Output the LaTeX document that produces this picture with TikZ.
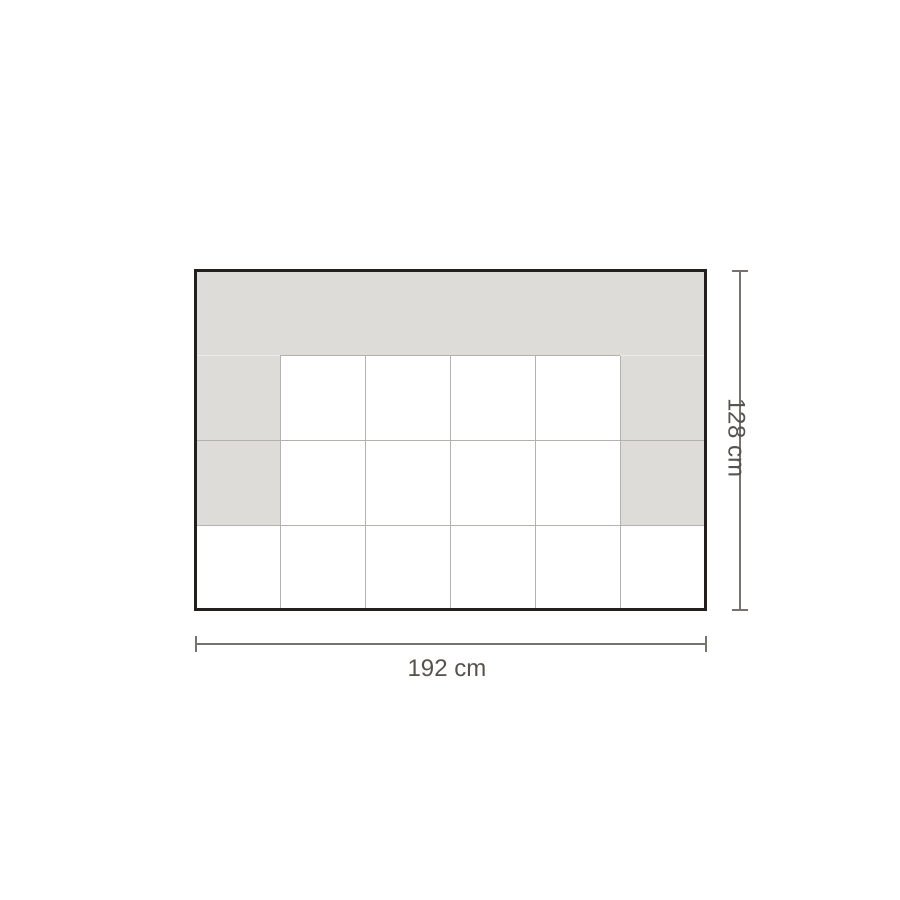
\documentclass[tikz,border=0pt]{standalone}
\usepackage{fontspec}
\setmainfont{Liberation Sans}
\definecolor{tilegray}{HTML}{DDDCD9}
\definecolor{framecol}{HTML}{231F1C}
\definecolor{gridcol}{HTML}{B5B1AC}
\definecolor{gridlight}{HTML}{ECEBE9}
\definecolor{dimcol}{HTML}{77726E}
\definecolor{textcol}{HTML}{57524E}
\tikzset{
  gridline/.style={draw=gridcol, line width=1pt},
  gridlightline/.style={draw=gridlight, line width=1pt},
  frameline/.style={draw=framecol, line width=3pt},
  dimline/.style={draw=dimcol, line width=2pt},
  dimlabel/.style={text=textcol, font=\fontsize{24}{28}\selectfont, inner sep=0pt}
}
\begin{document}
\begin{tikzpicture}[x=1pt, y=-1pt]
\useasboundingbox (0,0) rectangle (900,900);
\fill[white] (0,0) rectangle (900,900);
% gray tiles
\fill[tilegray] (195,270) rectangle (705,355);
\fill[tilegray] (195,355) rectangle (280,525);
\fill[tilegray] (620,355) rectangle (705,525);
% grid lines
\foreach \x in {280,365,450,535,620} \draw[gridline] (\x,355) -- (\x,610);
\draw[gridline] (280,355) -- (620,355);
\draw[gridlightline] (195,355) -- (280,355);
\draw[gridlightline] (620,355) -- (705,355);
\draw[gridline] (195,440) -- (705,440);
\draw[gridline] (195,525) -- (705,525);
% frame
\draw[frameline] (195.5,270.5) rectangle (705.5,609.5);
% horizontal dimension
\coordinate (hl) at (195.5,644);
\coordinate (hr) at (705.5,644);
\draw[dimline] (hl) -- (hr);
\draw[dimline] ([yshift=-8]hl) -- ([yshift=8]hl);
\draw[dimline] ([yshift=-8]hr) -- ([yshift=8]hr);
\node[dimlabel] (wlabel) at (447,668) {192 cm};
% vertical dimension
\coordinate (vt) at (739.5,270.5);
\coordinate (vb) at (739.5,609.5);
\draw[dimline] (vt) -- (vb);
\draw[dimline] ([xshift=-8]vt) -- ([xshift=8]vt);
\draw[dimline] ([xshift=-8]vb) -- ([xshift=8]vb);
\node[dimlabel, rotate=-90] (hlabel) at (737,438) {128 cm};
\end{tikzpicture}
\end{document}
